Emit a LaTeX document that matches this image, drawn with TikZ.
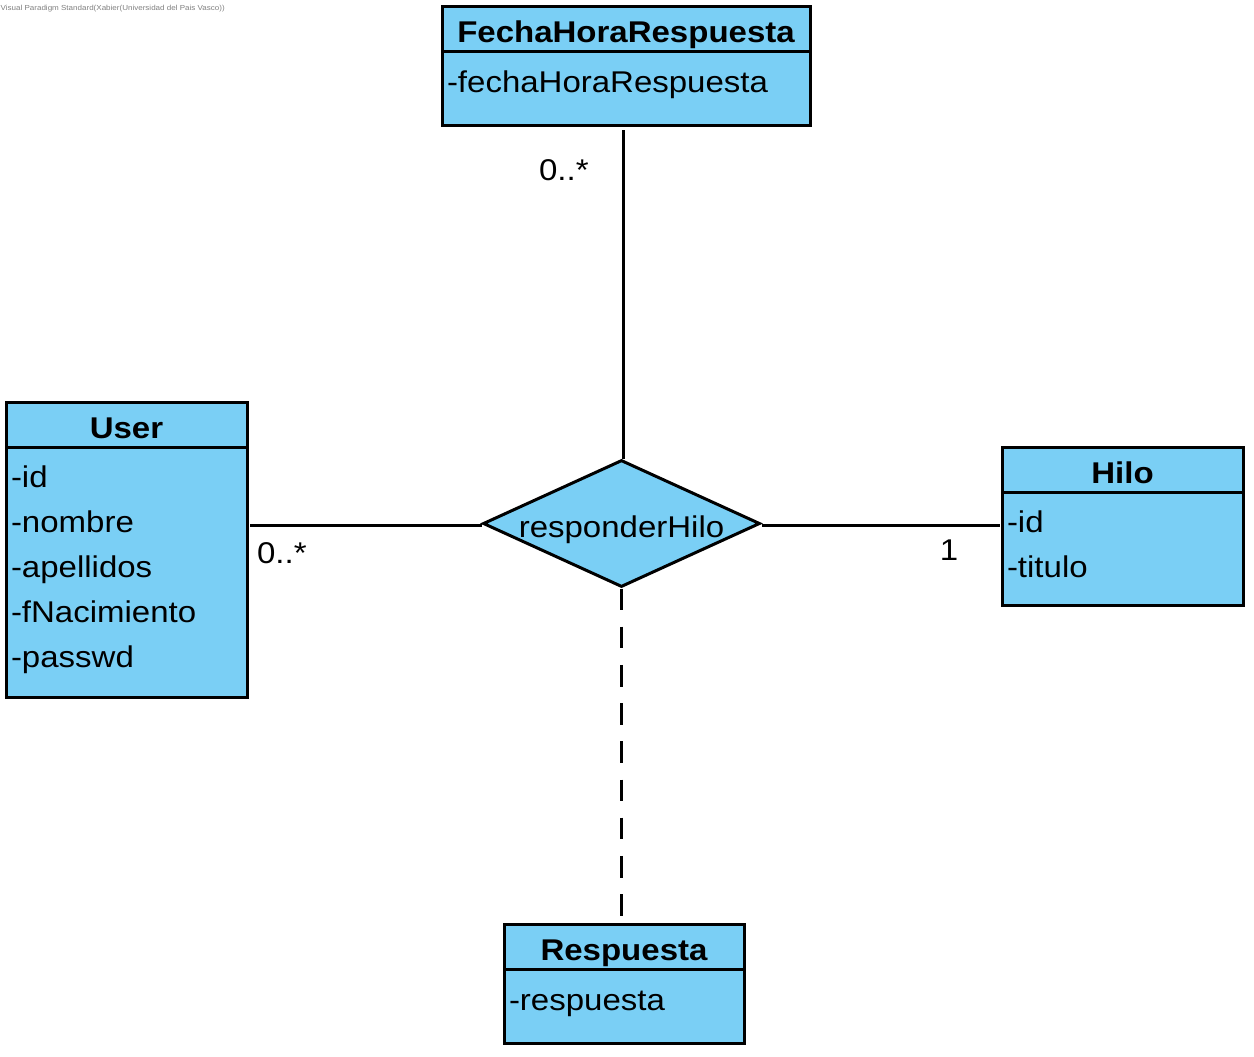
\documentclass[tikz,border=0pt]{standalone}
\usepackage{fontspec}
\setmainfont{Liberation Sans}[FakeStretch=1.1]
\usetikzlibrary{shapes.geometric,positioning}
\definecolor{classblue}{RGB}{122,207,245}
\definecolor{markgray}{RGB}{128,128,128}

\begin{document}
\begin{tikzpicture}[x=0.5pt, y=-0.5pt, semithick]
    \tikzstyle{classhead}=[draw=black, line width=1.5pt, fill=classblue, inner sep=0pt, outer sep=0pt,
        minimum height=22.5pt, text height=13.8pt, text depth=0pt, font=\fontsize{15}{18}\selectfont\bfseries]
    \tikzstyle{classbody}=[draw=black, line width=1.5pt, fill=classblue, inner sep=0pt, outer sep=0pt, anchor=north]
    \tikzstyle{attrs}=[anchor=north west, align=left, inner xsep=2.5pt, inner ysep=9.5pt, outer sep=0pt,
        execute at begin node={\rule{0pt}{11pt}}, font=\fontsize{15}{22.5}\selectfont]
    \tikzstyle{relation}=[diamond, draw=black, line width=1.5pt, fill=classblue, aspect=2.18, inner sep=0pt,
        minimum width=138.5pt, minimum height=63.5pt, text height=13.5pt, text depth=0pt, font=\fontsize{15}{18}\selectfont]
    \tikzstyle{mult}=[inner sep=0pt, font=\fontsize{15}{18}\selectfont]
    \tikzstyle{assoc}=[draw=black, line width=1.5pt]
    \tikzstyle{attached}=[assoc, dash pattern=on 10.8pt off 8.3pt]

    \useasboundingbox (0,0) rectangle (1254,1056);
    \fill[white] (0,0) rectangle (1254,1056);

    % watermark
    \node[anchor=base west, inner sep=0pt, text=markgray, font=\fontsize{3.65}{4}\selectfont] (vp mark) at (0,10)
        {Visual Paradigm Standard(Xabier(Universidad del Pais Vasco))};

    % classes
    \node[classhead, minimum width=184pt] (FechaHoraRespuesta) at (626,29) {FechaHoraRespuesta};
    \node[classbody, minimum width=184pt, minimum height=37pt] (FechaHoraRespuesta body) at (FechaHoraRespuesta.south) {};
    \node[attrs] (FechaHoraRespuesta attrs) at (FechaHoraRespuesta body.north west) {-fechaHoraRespuesta};

    \node[classhead, minimum width=120.5pt] (User) at (126.5,424.5) {User};
    \node[classbody, minimum width=120.5pt, minimum height=125pt] (User body) at (User.south) {};
    \node[attrs] (User attrs) at (User body.north west) {-id\\-nombre\\-apellidos\\-fNacimiento\\-passwd};

    \node[classhead, minimum width=120.5pt] (Hilo) at (1122.5,469.5) {Hilo};
    \node[classbody, minimum width=120.5pt, minimum height=56.5pt] (Hilo body) at (Hilo.south) {};
    \node[attrs] (Hilo attrs) at (Hilo body.north west) {-id\\-titulo};

    \node[classhead, minimum width=120pt] (Respuesta) at (624,946.5) {Respuesta};
    \node[classbody, minimum width=120pt, minimum height=37pt] (Respuesta body) at (Respuesta.south) {};
    \node[attrs] (Respuesta attrs) at (Respuesta body.north west) {-respuesta};

    % relationship
    \node[relation] (responderHilo) at (621.5,523.5) {responderHilo};

    % edges
    \draw[assoc, shorten >=1.5pt] ([yshift=-0.75pt]responderHilo.west) -- ([yshift=-0.75pt]responderHilo.west -| User body.east);
    \draw[assoc, shorten >=1pt] ([yshift=-0.75pt]responderHilo.east) -- ([yshift=-0.75pt]responderHilo.east -| Hilo body.west);
    \draw[assoc, shorten >=2pt] ([xshift=1pt]responderHilo.north) -- ([xshift=1pt]responderHilo.north |- FechaHoraRespuesta body.south);
    \draw[attached, shorten >=1pt] (responderHilo.south) -- (responderHilo.south |- Respuesta.north);

    % multiplicities
    \node[mult, anchor=base west] (User mult) at (256.5,563) {0..*};
    \node[mult, anchor=base] (Hilo mult) at (949,560) {1};
    \node[mult, anchor=base west] (FechaHoraRespuesta mult) at (538.5,180) {0..*};
\end{tikzpicture}
\end{document}
